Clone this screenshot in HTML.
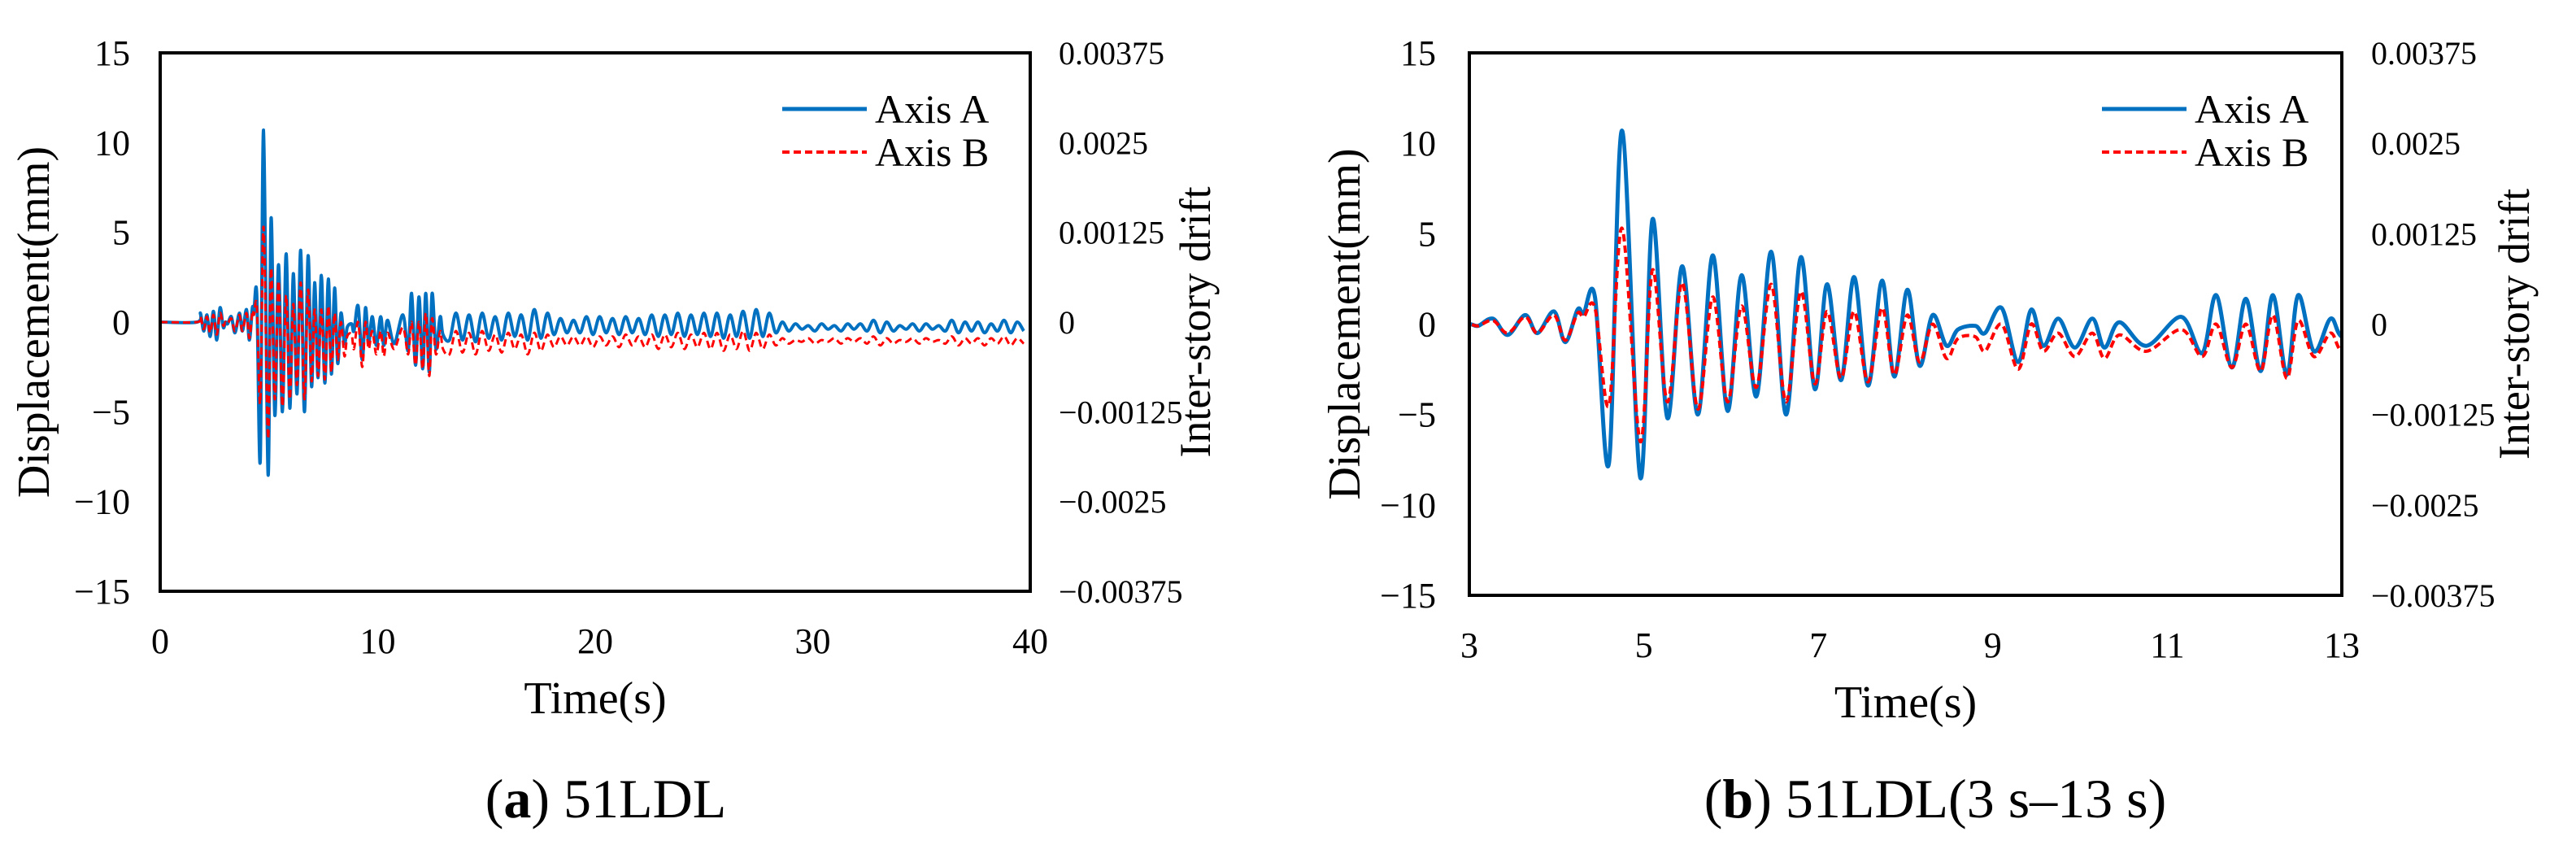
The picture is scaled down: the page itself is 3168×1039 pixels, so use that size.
<!DOCTYPE html>
<html><head><meta charset="utf-8">
<style>
html,body{margin:0;padding:0;background:#fff;}
svg{display:block;}
text{font-family:"Liberation Serif",serif;fill:#000;}
</style></head>
<body>
<svg id="fig" width="3168" height="1039" viewBox="0 0 3168 1039" xmlns="http://www.w3.org/2000/svg">
<g id="pa"></g>
<g id="pb"></g>
</svg>
<script>
// ---- data ----
const headT = [0, 1.7, 1.85, 2.0, 2.15, 2.3, 2.45, 2.6, 2.75, 2.9];
const headA = [0, 0, 0.5, -0.5, 0.4, -0.8, 0.6, -1.0, 0.8, -0.3];
const headB = [0, 0, 0.3, -0.4, 0.3, -0.6, 0.4, -0.7, 0.5, -0.2];
const midT = [3.0,3.1,3.27,3.44,3.64,3.78,3.97,4.1,4.24,4.31,4.44,4.6,4.75,4.96,5.1,5.27,5.44,5.62,5.79,5.96,6.12,6.29,6.46,6.63,6.8,6.96,7.1,7.26,7.41,7.57,7.73,7.87,8.02,8.16,8.31,8.47,8.6,8.8,8.91,9.1,9.29,9.44,9.58,9.75,9.94,10.14,10.28,10.45,10.76,11.16,11.4,11.56,11.74,11.9,12.07,12.21,12.37,12.5,12.68,12.87,13.0];
const midA = [0,-0.1,0.3,-0.6,0.5,-0.5,0.7,-1.0,0.8,0.6,1.5,-7.7,10.7,-8.5,5.8,-5.2,3.2,-5.0,3.8,-4.8,2.7,-4.0,4.0,-5.0,3.7,-3.6,2.2,-3.1,2.6,-3.4,2.4,-2.9,1.9,-2.3,0.5,-1.2,-0.3,-0.1,-0.5,0.9,-2.1,0.8,-1.2,0.3,-1.3,0.3,-1.3,0.1,-1.2,0.4,-1.6,1.6,-2.4,1.4,-2.6,1.6,-2.8,1.6,-1.5,0.3,-0.7];
const midB = [0,-0.1,0.2,-0.5,0.4,-0.5,0.5,-0.9,0.6,0.4,0.9,-4.5,5.3,-6.5,3.0,-4.3,2.3,-4.7,1.5,-4.3,1.0,-3.5,2.2,-4.3,1.8,-3.3,0.7,-3.0,0.7,-3.2,0.9,-2.8,0.5,-2.1,0.0,-1.9,-0.8,-0.7,-1.5,0.0,-2.5,0.0,-1.5,-0.5,-1.8,-0.5,-1.9,-0.6,-1.5,-0.3,-1.8,0.0,-2.4,0.0,-2.6,0.5,-3.0,0.2,-1.8,-0.5,-1.5];
const tailStart = 13.3, tailStep = 0.3;
const tailA = [-1.0,0.5,-1.0,0.4,-1.1,0.5,-0.9,0.3,-1.0,0.5,
-0.8,0.4,-1.0,0.7,-0.9,0.5,-0.7,0.2,-0.6,0.1,
-0.6,0.3,-0.7,0.3,-0.6,0.2,-0.7,0.3,-0.6,0.2,
-0.7,0.4,-0.8,0.4,-0.7,0.5,-0.8,0.4,-0.7,0.5,
-0.8,0.5,-0.9,0.4,-0.8,0.6,-0.9,0.7,-0.8,0.5,
-0.6,0.0,-0.5,-0.1,-0.4,-0.2,-0.5,-0.1,-0.4,-0.2,
-0.5,-0.1,-0.4,-0.1,-0.5,0.1,-0.6,0.0,-0.5,-0.2,
-0.4,-0.1,-0.5,-0.1,-0.4,-0.2,-0.5,0.1,-0.6,0.0,
-0.5,0.0,-0.6,-0.1,-0.5,0.1,-0.6,0.0,-0.5];
const tailB = [-1.8,-0.5,-1.7,-0.6,-1.8,-0.5,-1.6,-0.7,-1.7,-0.6,
-1.5,-0.7,-1.8,-0.6,-1.6,-0.7,-1.4,-0.8,-1.3,-0.8,
-1.3,-0.8,-1.4,-0.8,-1.3,-0.8,-1.4,-0.7,-1.3,-0.8,
-1.4,-0.7,-1.5,-0.7,-1.4,-0.6,-1.5,-0.7,-1.4,-0.6,
-1.5,-0.6,-1.6,-0.7,-1.5,-0.5,-1.6,-0.6,-1.5,-0.7,
-1.3,-0.9,-1.2,-1.0,-1.1,-0.9,-1.2,-1.0,-1.1,-0.9,
-1.2,-0.9,-1.1,-0.9,-1.2,-0.8,-1.3,-0.9,-1.2,-1.0,
-1.1,-0.9,-1.2,-0.9,-1.1,-1.0,-1.2,-0.8,-1.3,-0.9,
-1.2,-0.9,-1.3,-0.9,-1.2,-0.8,-1.3,-0.9,-1.2];
const yTicks = [15,10,5,0,-5,-10,-15];
const yTickLabels = ["15","10","5","0","\u22125","\u221210","\u221215"];
const rTickLabels = ["0.00375","0.0025","0.00125","0","\u22120.00125","\u22120.0025","\u22120.00375"];
const xTicksA = [0,10,20,30,40];
const xTicksB = [3,5,7,9,11,13];

// ---- helpers ----
const NS = "http://www.w3.org/2000/svg";
function mk(parent, tag, attrs, txt){
  const e = document.createElementNS(NS, tag);
  for (const k in attrs) e.setAttribute(k, attrs[k]);
  if (txt !== undefined) e.textContent = txt;
  parent.appendChild(e); return e;
}
function smoothPath(pts){
  let d = "M" + pts[0][0].toFixed(1) + "," + pts[0][1].toFixed(1);
  for (let i = 0; i < pts.length - 1; i++){
    const p0 = pts[Math.max(0,i-1)], p1 = pts[i], p2 = pts[i+1], p3 = pts[Math.min(pts.length-1,i+2)];
    const c1x = p1[0] + (p2[0]-p0[0])/6, c1y = p1[1] + (p2[1]-p0[1])/6;
    const c2x = p2[0] - (p3[0]-p1[0])/6, c2y = p2[1] - (p3[1]-p1[1])/6;
    d += " C" + c1x.toFixed(1)+","+c1y.toFixed(1)+" "+c2x.toFixed(1)+","+c2y.toFixed(1)+" "+p2[0].toFixed(1)+","+p2[1].toFixed(1);
  }
  return d;
}
function series(which){
  const t = [], v = [];
  const hv = which === "A" ? headA : headB, mv = which === "A" ? midA : midB, tv = which === "A" ? tailA : tailB;
  headT.forEach((x,i)=>{t.push(x); v.push(hv[i]);});
  midT.forEach((x,i)=>{t.push(x); v.push(mv[i]);});
  tv.forEach((x,i)=>{t.push(tailStart + i*tailStep); v.push(x);});
  return {t, v};
}

function panel(g, cfg){
  const {L,R,T,B,x0,x1,xt,sw,caption,ylabX,rlabX,lTickR,rTickL,legX} = cfg;
  const sx = x => L + (x - x0)/(x1 - x0)*(R - L);
  const sy = y => T + (15 - y)/30*(B - T);
  const clipId = g.id + "-clip";
  const defs = mk(g, "defs", {});
  const cp = mk(defs, "clipPath", {id: clipId});
  mk(cp, "rect", {x:L, y:T, width:R-L, height:B-T});
  ["A","B"].forEach(w=>{
    const s = series(w);
    const pts = [];
    for (let i=0;i<s.t.length;i++){
      if (s.t[i] < x0 - 0.5 || s.t[i] > x1 + 0.5) continue;
      pts.push([sx(s.t[i]), sy(s.v[i])]);
    }
    const p = mk(g, "path", {d: smoothPath(pts), fill:"none", "clip-path":"url(#"+clipId+")",
      stroke: w==="A" ? "#0070c0" : "#ff0000", "stroke-width": w==="A" ? sw : sw-1,
      "stroke-dasharray": w==="A" ? "none" : "9 5", "stroke-linejoin":"round"});
    
    
  });

  const fr = mk(g, "rect", {x:L, y:T, width:R-L, height:B-T, fill:"none", stroke:"#000", "stroke-width":4});
  
  

  yTicks.forEach((y,i)=>{
    const a = mk(g, "text", {x:lTickR, y:sy(y)+15, "text-anchor":"end", "font-size":44}, yTickLabels[i]);
    
    
    const b = mk(g, "text", {x:rTickL, y:sy(y)+14, "text-anchor":"start", "font-size":40}, rTickLabels[i]);
    
    
  });
  xt.forEach(x=>{
    const a = mk(g, "text", {x:sx(x), y:B+76, "text-anchor":"middle", "font-size":44}, String(x));
    
    
  });
  const xl = mk(g, "text", {x:(L+R)/2, y:B+150, "text-anchor":"middle", "font-size":56}, "Time(s)");
  
  
  const yl = mk(g, "text", {x:0, y:0, "text-anchor":"middle", "font-size":56, transform:"translate("+(ylabX)+","+((T+B)/2)+") rotate(-90)"}, "Displacement(mm)");
  
  
  const rl = mk(g, "text", {x:0, y:0, "text-anchor":"middle", "font-size":54, transform:"translate("+(rlabX)+","+((T+B)/2)+") rotate(-90)"}, "Inter-story drift");
  
  

  const l1 = mk(g, "line", {x1:legX, x2:legX+104, y1:134, y2:134, stroke:"#0070c0", "stroke-width":5});
  
  
  const t1 = mk(g, "text", {x:legX+114, y:151, "font-size":50}, "Axis A");
  
  
  const l2 = mk(g, "line", {x1:legX, x2:legX+104, y1:187, y2:187, stroke:"#ff0000", "stroke-width":4, "stroke-dasharray":"9 5"});
  
  
  const t2 = mk(g, "text", {x:legX+114, y:204, "font-size":50}, "Axis B");
  
  

  const cap = mk(g, "text", {x:cfg.capX, y:1005, "text-anchor":"middle", "font-size":68}, "");
  
  
  mk(cap, "tspan", {}, "("); mk(cap, "tspan", {"font-weight":"bold"}, caption[0]); mk(cap, "tspan", {}, ") " + caption[1]);
}

panel(document.getElementById("pa"), {L:197,R:1267,T:65,B:727,x0:0,x1:40,xt:xTicksA,sw:4,caption:["a","51LDL"],
  ylabX:60,rlabX:1488,lTickR:160,rTickL:1302,legX:962,capX:745});
panel(document.getElementById("pb"), {L:1807,R:2880,T:65,B:732,x0:3,x1:13,xt:xTicksB,sw:5,caption:["b","51LDL(3 s\u201313 s)"],
  ylabX:1672,rlabX:3110,lTickR:1766,rTickL:2916,legX:2585,capX:2380});
</script>
</body></html>
